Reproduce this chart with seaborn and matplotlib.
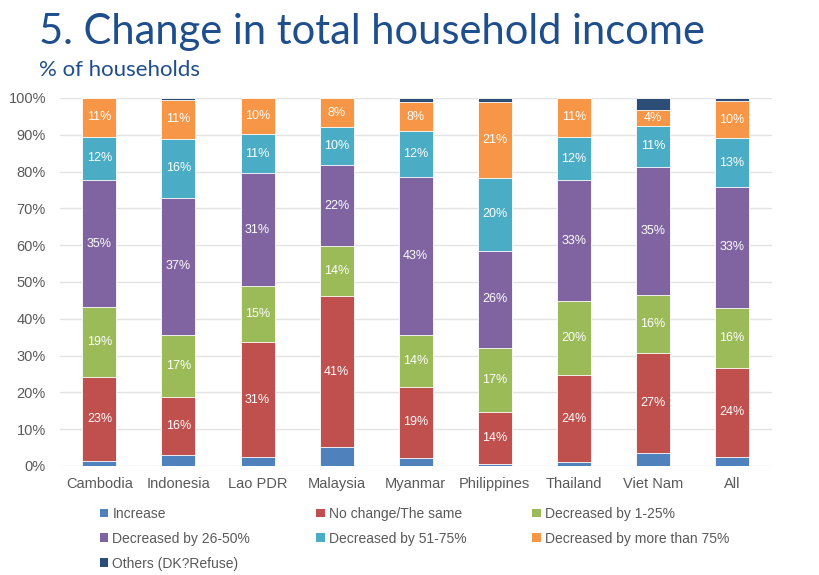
import numpy as np
import pandas as pd
import matplotlib
matplotlib.use("Agg")
import matplotlib.pyplot as plt
import seaborn as sns
from matplotlib.patches import Patch

countries = ['Cambodia', 'Indonesia', 'Lao PDR', 'Malaysia', 'Myanmar',
             'Philippines', 'Thailand', 'Viet Nam', 'All']

series = ['Increase', 'No change/The same', 'Decreased by 1-25%',
          'Decreased by 26-50%', 'Decreased by 51-75%',
          'Decreased by more than 75%', 'Others (DK?Refuse)']

increase = [1.3, 3.0, 2.4, 5.1, 2.2, 0.6, 1.1, 3.5, 2.4]
no_change = [22.9, 15.7, 31.3, 41.0, 19.3, 14.1, 23.6, 27.2, 24.3]
dec_1_25 = [18.9, 17.0, 15.2, 13.6, 14.1, 17.4, 20.1, 15.8, 16.3]
dec_26_50 = [34.7, 37.2, 30.7, 22.0, 42.9, 26.4, 32.9, 34.8, 32.8]
dec_51_75 = [11.6, 16.0, 10.6, 10.4, 12.4, 19.8, 11.7, 11.2, 13.3]
dec_75 = [10.6, 10.6, 9.8, 7.9, 7.9, 20.6, 10.6, 4.2, 10.1]
others = [0.0, 0.5, 0.0, 0.0, 1.2, 1.1, 0.0, 3.3, 0.8]

colors = ['#4F81BD', '#C0504D', '#9BBB59', '#8064A2', '#4BACC6', '#F79646', '#2C4D75']
labelled = [False, True, True, True, True, True, False]

df = pd.DataFrame([increase, no_change, dec_1_25, dec_26_50, dec_51_75, dec_75, others],
                  index=series, columns=countries).T
cum = df.cumsum(axis=1)

sns.set_theme(style='white')
plt.rcParams['font.family'] = ['Liberation Sans', 'DejaVu Sans']

fig = plt.figure(figsize=(8.2, 5.75), dpi=100)
ax = fig.add_axes([0.073, 0.1896, 0.868, 0.640])

# draw cumulative totals from the top series down so each layer shows
for i in range(len(series) - 1, -1, -1):
    sns.barplot(x=countries, y=cum[series[i]].values, color=colors[i],
                width=0.43, edgecolor='white', linewidth=0.6, saturation=1, ax=ax)

# value labels
for i, s in enumerate(series):
    if not labelled[i]:
        continue
    for j, c in enumerate(countries):
        v = df.loc[c, s]
        if v >= 3.5:
            ax.text(j, cum.loc[c, s] - v / 2, f'{round(v)}%', ha='center', va='center',
                    color='white', fontsize=9)

ax.set_ylim(0, 100)
ax.set_xlim(-0.5, len(countries) - 0.5)
ax.set_yticks(np.arange(0, 101, 10))
ax.set_yticklabels([f'{t}%' for t in range(0, 101, 10)])
ax.yaxis.grid(True, color='#E3E3E3', linewidth=1)
ax.set_axisbelow(True)
for sp in ax.spines.values():
    sp.set_visible(False)
ax.tick_params(axis='both', length=0, colors='#595959', labelsize=10.5)
ax.tick_params(axis='x', pad=8)
ax.tick_params(axis='y', pad=10)
ax.set_xlabel('')
ax.set_ylabel('')

# titles
fig.text(0.048, 0.923, '5. Change in total household income', fontsize=30,
         color='#1F4E8C', family=['Lato', 'DejaVu Sans'], va='baseline')
fig.text(0.048, 0.868, '% of households', fontsize=16,
         color='#1F4E8C', family=['Lato', 'DejaVu Sans'], va='baseline')

# legend, row-wise in three columns
order = [0, 3, 6, 1, 4, 2, 5]
handles = [Patch(facecolor=colors[k], edgecolor='none') for k in order]
labels = [series[k] for k in order]
fig.legend(handles, labels, ncol=3, loc='upper left', bbox_to_anchor=(0.115, 0.128),
           frameon=False, fontsize=10, labelcolor='#595959', handlelength=0.6,
           handleheight=0.6, handletextpad=0.3, columnspacing=4.75, labelspacing=0.78,
           borderaxespad=0)

fig.savefig('out.png', dpi=100, facecolor='white')
